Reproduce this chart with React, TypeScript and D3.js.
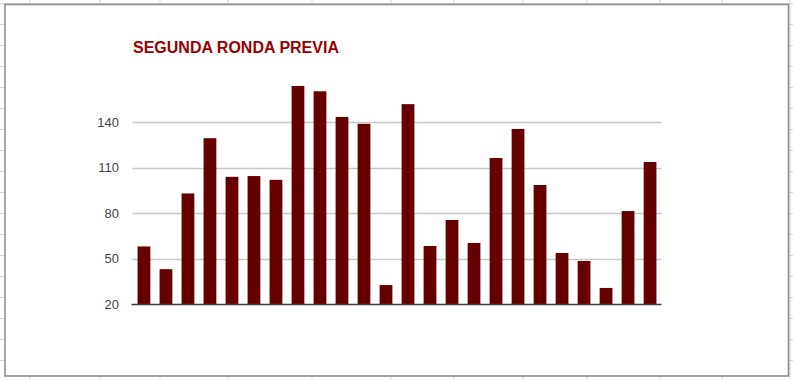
import React from "react";
import * as d3 from "d3";

const categories = Array.from({ length: 24 }, (_, i) => `${i + 1}`);
const values = [58, 43, 93, 129.5, 104, 104.5, 102, 164, 160.5, 143.5, 139, 32.5, 152, 58.3, 75.5, 60.3, 116.4, 135.6, 98.6, 53.7, 48.4, 30.6, 81.4, 113.8];
const yTicks = [20, 50, 80, 110, 140];
const title = "SEGUNDA RONDA PREVIA";

const sheetCols = [30, 100, 160, 228, 312, 391, 454, 523, 587, 660, 722, 790];
const sheetRows = d3.range(3, 380, 21);

export default function App() {
  const W = 793, H = 380;
  const x = d3.scaleBand<string>().domain(categories).range([132.5, 661.5]).paddingInner(0.42).paddingOuter(0.23);
  const y = d3.scaleLinear().domain([20, 140]).range([304, 122.3]);
  const font = "'Liberation Sans', Arial, sans-serif";
  return (
    <div style={{ position: "absolute", left: 0, top: 0 }}>
      <svg width={W} height={H} style={{ display: "block", background: "#fff" }}>
        {sheetCols.map((c) => (
          <line key={"c" + c} x1={c} x2={c} y1={0} y2={H} stroke="#d4d4d4" strokeWidth={1} />
        ))}
        {sheetRows.map((r) => (
          <line key={"r" + r} x1={0} x2={W} y1={r + 0.5} y2={r + 0.5} stroke="#d4d4d4" strokeWidth={1} />
        ))}
        <rect x={5} y={4.5} width={783.5} height={371.5} fill="#fff" stroke="#8f8f8f" strokeWidth={1.6} />
        <text x={133} y={53} fill="#990000" fontFamily={font} fontWeight="bold" fontSize={16}>
          {title}
        </text>
        {yTicks.slice(1).map((t) => (
          <line key={"g" + t} x1={132.5} x2={661.5} y1={Math.round(y(t)) + 0.5} y2={Math.round(y(t)) + 0.5} stroke="#c8c8c8" strokeWidth={1.3} />
        ))}
        {yTicks.map((t) => (
          <text key={"t" + t} x={119} y={y(t) + 4.7} textAnchor="end" fill="#444" fontFamily={font} fontSize={13}>
            {t}
          </text>
        ))}
        {values.map((v, i) => (
          <rect key={i} x={x(categories[i])} y={y(v)} width={x.bandwidth()} height={y(20) - y(v)} fill="#660000" />
        ))}
        <line x1={131.5} x2={661.5} y1={304.5} y2={304.5} stroke="#404040" strokeWidth={1.3} />
      </svg>
    </div>
  );
}
